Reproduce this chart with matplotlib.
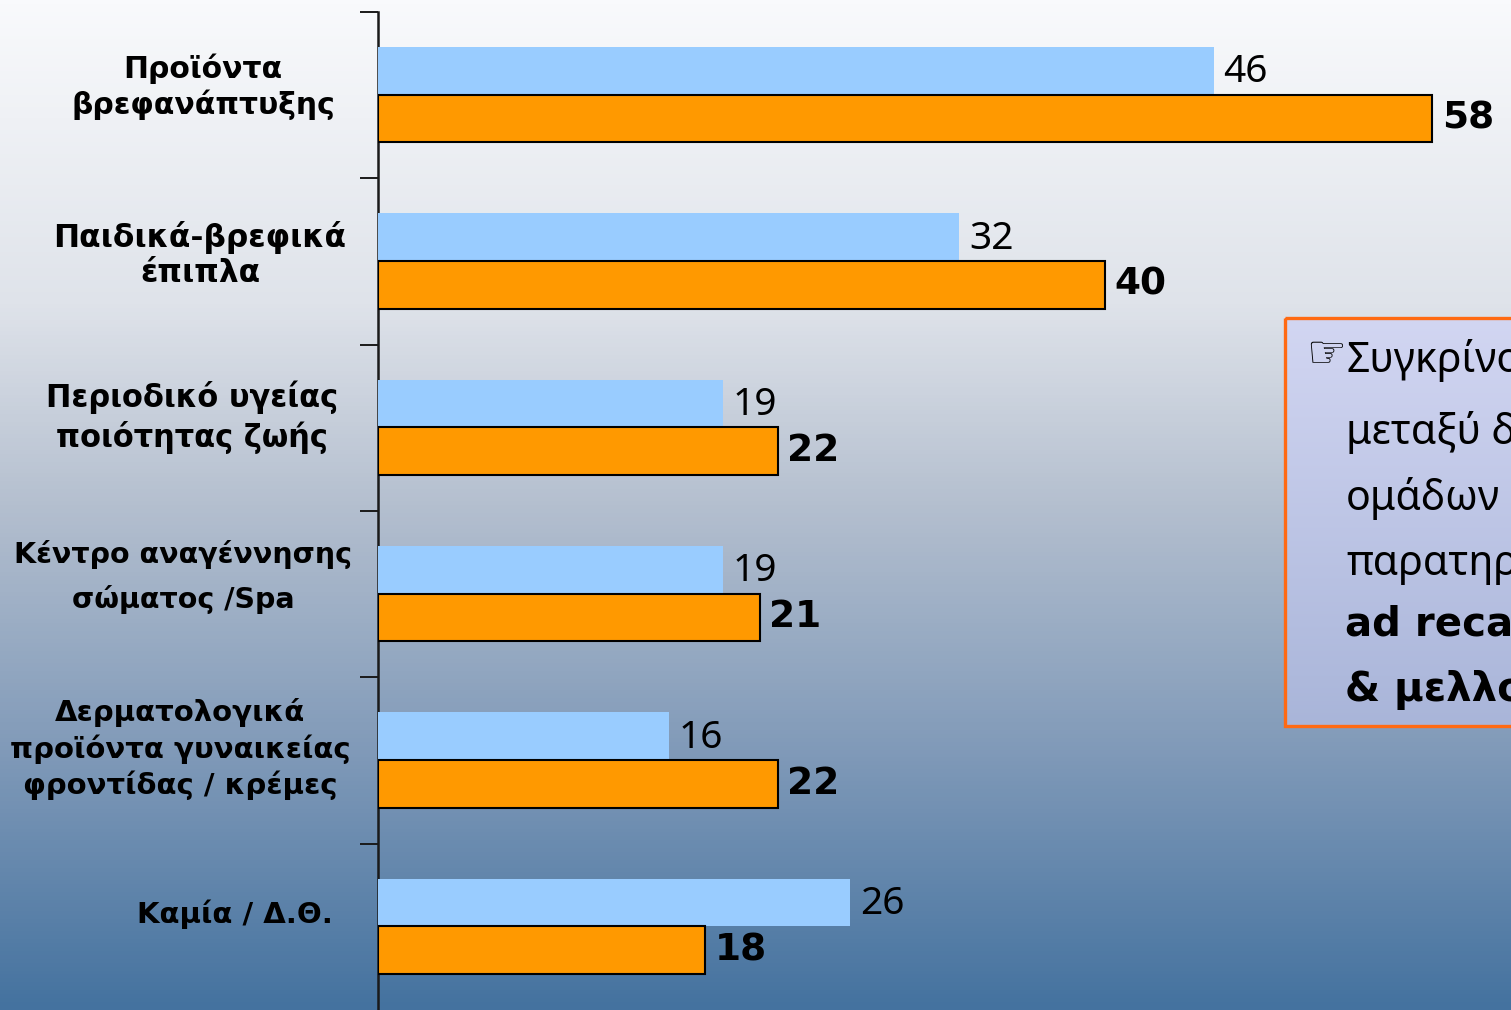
import numpy as np
import matplotlib
matplotlib.use('Agg')
import matplotlib.pyplot as plt
from matplotlib.colors import LinearSegmentedColormap
from matplotlib.patches import Rectangle

W, H = 1511, 1010

categories = ['Προϊόντα\nβρεφανάπτυξης', 'Παιδικά-βρεφικά\nέπιπλα', 'Περιοδικό υγείας\nποιότητας ζωής',
              'Κέντρο αναγέννησης\nσώματος /Spa', 'Δερματολογικά\nπροϊόντα γυναικείας\nφροντίδας / κρέμες',
              'Καμία / Δ.Θ.']
blue_vals = [46, 32, 19, 19, 16, 26]
orange_vals = [58, 40, 22, 21, 22, 18]
# centre of each label block in pixels, and the line pitch of each
label_x = [203, 200, 192, 183, 180, 235]
label_y = [87, 256, 417, 577, 749, 914]
label_pitch = [36, 36, 40, 45, 36.5, 36]
label_size = [21.5, 22.5, 22, 20.5, 21, 21]
# the box runs off the picture, only the part that can be seen is written
box_lines = ['Συγκρίνο', 'μεταξύ δ', 'ομάδων', 'παρατηρ', 'ad reca', '& μελλο']
box_y = [360, 432, 499, 564, 625, 690]

plt.rcParams['font.family'] = ['Noto Sans', 'DejaVu Sans']
fig = plt.figure(figsize=(W / 100, H / 100), dpi=100)

bg = fig.add_axes([0, 0, 1, 1], zorder=0)
bg_cmap = LinearSegmentedColormap.from_list('bg', [(0, '#f9fafc'), (0.3, '#dfe3ea'), (0.5, '#b4bfcf'),
                                                   (0.75, '#7f99b8'), (1, '#44729f')])
bg.imshow(np.linspace(0, 1, 256).reshape(-1, 1), cmap=bg_cmap, aspect='auto', extent=[0, W, H, 0])
# comment box with its own gradient
box_cmap = LinearSegmentedColormap.from_list('box', ['#d2d6f2', '#a9b5d9'])
bg.imshow(np.linspace(0, 1, 256).reshape(-1, 1), cmap=box_cmap, aspect='auto', extent=[1285, W + 10, 726, 318])
bg.add_patch(Rectangle((1285, 318), 300, 408, fill=False, ec='#ff6a13', lw=2.4))
bg.set_xlim(0, W)
bg.set_ylim(H, 0)
bg.axis('off')

ax = fig.add_axes([378 / W, 0, (W - 378) / W, (H - 12) / H], zorder=1)
ax.patch.set_alpha(0)
pos = np.arange(len(categories)) + 0.497
bar_h = 0.286
ax.barh(pos - bar_h / 2, blue_vals, height=bar_h, color='#99ccff', lw=0, zorder=3)
ax.barh(pos + bar_h / 2, orange_vals, height=bar_h, color='#ff9900', ec='black', lw=1.5, zorder=3)
ax.set_xlim(0, (W - 378) / 18.17)
ax.set_ylim(6, 0)
for s in ['top', 'right', 'bottom']:
    ax.spines[s].set_visible(False)
ax.spines['left'].set_linewidth(1.8)
ax.spines['left'].set_color('#1a1a1a')
ax.set_xticks([])
ax.set_yticks(np.arange(6))
ax.set_yticklabels([])
ax.tick_params(axis='y', length=13, width=1.4, color='#1a1a1a')

for p, b, o in zip(pos, blue_vals, orange_vals):
    ax.annotate(str(b), (b, p - bar_h / 2), xytext=(7, -1), textcoords='offset points',
                va='center', fontsize=28, color='black', annotation_clip=False)
    ax.annotate(str(o), (o, p + bar_h / 2), xytext=(7, 0), textcoords='offset points',
                va='center', fontsize=27, fontweight='bold', family='DejaVu Sans', color='black',
                annotation_clip=False)

for name, x, y, pitch, size in zip(categories, label_x, label_y, label_pitch, label_size):
    lines = name.split('\n')
    for k, line in enumerate(lines):
        bg.text(x, y + (k - (len(lines) - 1) / 2) * pitch, line, ha='center', va='center',
                fontsize=size, fontweight='bold', family='DejaVu Sans', color='black', zorder=5)

for i, (line, y) in enumerate(zip(box_lines, box_y)):
    if i >= 4:
        bg.text(1345, y, line, ha='left', va='center', fontsize=29, fontweight='bold',
                family='DejaVu Sans', color='black', zorder=5)
    else:
        bg.text(1346, y, line, ha='left', va='center', fontsize=29.5, color='black', zorder=5)
bg.text(1306, 355, '☞', ha='left', va='center', fontsize=32, color='black', zorder=5,
        family='DejaVu Sans')

fig.savefig('out.png', dpi=100)
